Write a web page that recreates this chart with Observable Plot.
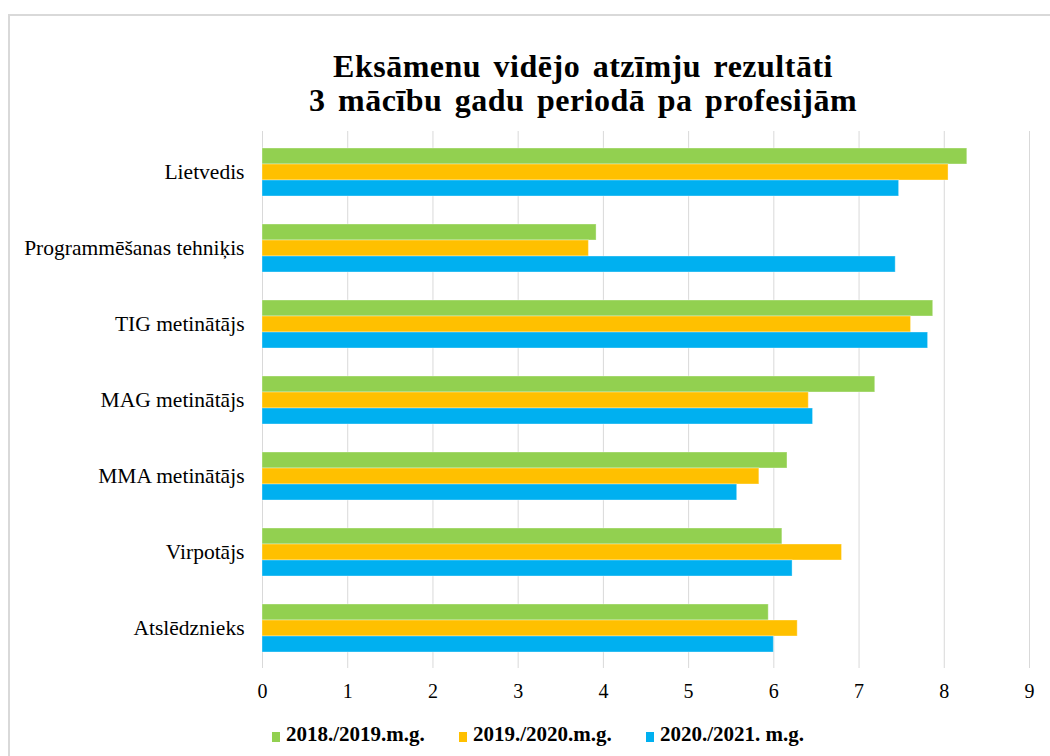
<!DOCTYPE html>
<html>
<head>
<meta charset="utf-8">
<script src="https://cdn.jsdelivr.net/npm/d3@7"></script>
<script src="https://cdn.jsdelivr.net/npm/@observablehq/plot@0.6"></script>
<style>
  body { margin: 0; background: #fff; }
  #wrap { position: relative; width: 1050px; height: 756px; overflow: hidden; background: #fff; font-family: 'Liberation Serif', 'Times New Roman', serif; }
  #frame { position: absolute; left: 8px; top: 14px; width: 1100px; height: 800px; border: 2px solid #d9d9d9; box-sizing: border-box; }
  #title { position: absolute; left: 0; top: 49px; width: 1166px; text-align: center; font-weight: bold; font-size: 32px; line-height: 34px; letter-spacing: 0.5px; word-spacing: 4px; color: #000; }
  #chart { position: absolute; left: 0; top: 0; }
  .leg { position: absolute; top: 723px; font-weight: bold; font-size: 21px; line-height: 22px; color: #000; white-space: nowrap; }
  .leg span.sw { display: inline-block; width: 8px; height: 10px; margin-right: 6px; vertical-align: -1px; }
</style>
</head>
<body>
<div id="wrap">
  <div id="frame"></div>
  <div id="chart"></div>
  <div id="title">Eksāmenu vidējo atzīmju rezultāti<br>3 mācību gadu periodā pa profesijām</div>
  <div id="legend"></div>
</div>
<script>
const categories = ["Lietvedis", "Programmēšanas tehniķis", "TIG metinātājs", "MAG metinātājs", "MMA metinātājs", "Virpotājs", "Atslēdznieks"];
const series = ["2018./2019.m.g.", "2019./2020.m.g.", "2020./2021. m.g."];
const values2018 = [8.27, 3.92, 7.87, 7.19, 6.16, 6.10, 5.94];
const values2019 = [8.05, 3.83, 7.61, 6.41, 5.83, 6.80, 6.28];
const values2020 = [7.47, 7.43, 7.81, 6.46, 5.57, 6.22, 6.00];
const xTicks = [0, 1, 2, 3, 4, 5, 6, 7, 8, 9];
const colors = ["#92D050", "#FFC000", "#00B0F0"];

const seriesValues = [values2018, values2019, values2020];
const data = categories.flatMap((c, i) => series.map((s, j) => ({cat: c, s, v: seriesValues[j][i]})));

const chart = Plot.plot({
  width: 1050,
  height: 756,
  marginLeft: 262,
  marginRight: 21,
  marginTop: 131,
  marginBottom: 88,
  style: {fontFamily: "'Liberation Serif', 'Times New Roman', serif", color: "#000", background: "transparent"},
  x: {domain: [0, 9]},
  y: {domain: categories, paddingInner: 0.373, paddingOuter: 0.1865},
  color: {domain: series, range: colors},
  marks: [
    Plot.gridX(xTicks, {stroke: "#d9d9d9", strokeOpacity: 1, strokeWidth: 1}),
    ...series.map((s, j) => Plot.barX(data.filter(d => d.s === s), {
      x: "v", y: "cat", fill: "s",
      insetTop: j * 16, insetBottom: (2 - j) * 16,
      stroke: "#ffffff", strokeOpacity: 0.35, strokeWidth: 1
    })),
    Plot.axisY({tickSize: 0, tickPadding: 18, fontSize: 21.5, label: null}),
    Plot.axisX({ticks: xTicks, tickFormat: d => String(d), tickSize: 0, tickPadding: 15, fontSize: 20, label: null})
  ]
});
document.getElementById("chart").appendChild(chart);

const legendLefts = [272, 459, 646];
const legend = document.getElementById("legend");
series.forEach((s, j) => {
  const div = document.createElement("div");
  div.className = "leg";
  div.style.left = legendLefts[j] + "px";
  div.innerHTML = `<span class="sw" style="background:${colors[j]}"></span>${s}`;
  legend.appendChild(div);
});
</script>
</body>
</html>
